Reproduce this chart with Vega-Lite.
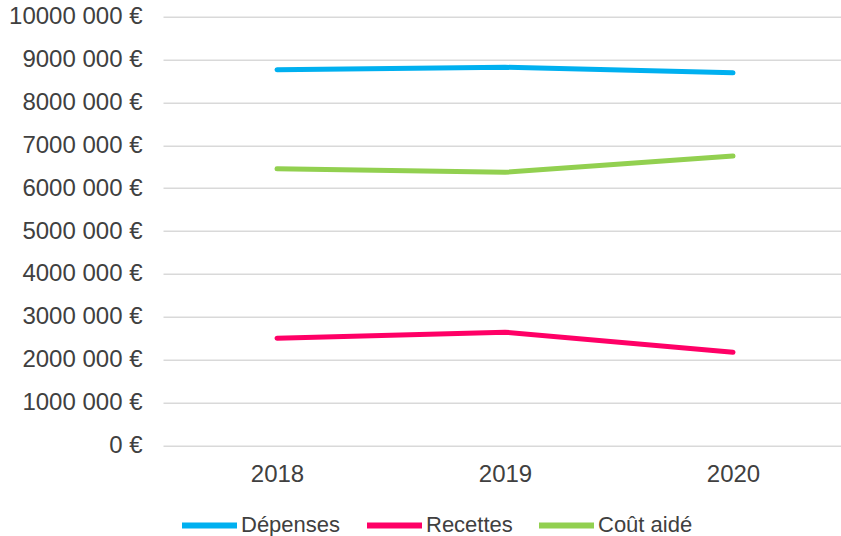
{
  "$schema": "https://vega.github.io/schema/vega-lite/v6.json",
  "autosize": "none",
  "width": 684,
  "height": 428.6,
  "padding": {"left": 163, "top": 16.7, "right": 0, "bottom": 90.7},
  "background": "white",
  "data": {"values": [
    {"annee": "2018", "serie": "Dépenses", "valeur": 8760000},
    {"annee": "2019", "serie": "Dépenses", "valeur": 8820000},
    {"annee": "2020", "serie": "Dépenses", "valeur": 8690000},
    {"annee": "2018", "serie": "Recettes", "valeur": 2500000},
    {"annee": "2019", "serie": "Recettes", "valeur": 2640000},
    {"annee": "2020", "serie": "Recettes", "valeur": 2170000},
    {"annee": "2018", "serie": "Coût aidé", "valeur": 6450000},
    {"annee": "2019", "serie": "Coût aidé", "valeur": 6370000},
    {"annee": "2020", "serie": "Coût aidé", "valeur": 6750000}
  ]},
  "config": {
    "view": {"stroke": null},
    "font": "Liberation Sans",
    "axis": {"labelFont": "Liberation Sans", "labelFontSize": 24, "labelColor": "#404040"},
    "legend": {"labelFont": "Liberation Sans", "labelFontSize": 22, "labelColor": "#404040"}
  },
  "mark": {"type": "line", "strokeWidth": 5, "strokeCap": "round", "strokeJoin": "round"},
  "encoding": {
    "x": {
      "field": "annee", "type": "ordinal",
      "scale": {"type": "point", "padding": 0.5},
      "axis": {"title": null, "labelAngle": 0, "domain": false, "ticks": false, "grid": false, "labelPadding": 17}
    },
    "y": {
      "field": "valeur", "type": "quantitative",
      "scale": {"domain": [0, 10000000], "nice": false},
      "axis": {
        "title": null, "values": [0,1000000,2000000,3000000,4000000,5000000,6000000,7000000,8000000,9000000,10000000],
        "domain": false, "ticks": false, "labelPadding": 21,
        "gridColor": "#d9d9d9", "gridWidth": 1.5,
        "labelExpr": "datum.value == 0 ? '0 €' : format(datum.value / 1000, 'd') + ' 000 €'"
      }
    },
    "color": {
      "field": "serie", "type": "nominal",
      "scale": {"domain": ["Dépenses", "Recettes", "Coût aidé"], "range": ["#00B0F0", "#FF0066", "#92D050"]},
      "legend": {
        "title": null, "orient": "none", "direction": "horizontal",
        "legendX": 16, "legendY": 478,
        "symbolType": "stroke", "symbolStrokeWidth": 6, "symbolSize": 3025,
        "labelOffset": 1, "columnPadding": 14
      }
    }
  }
}
